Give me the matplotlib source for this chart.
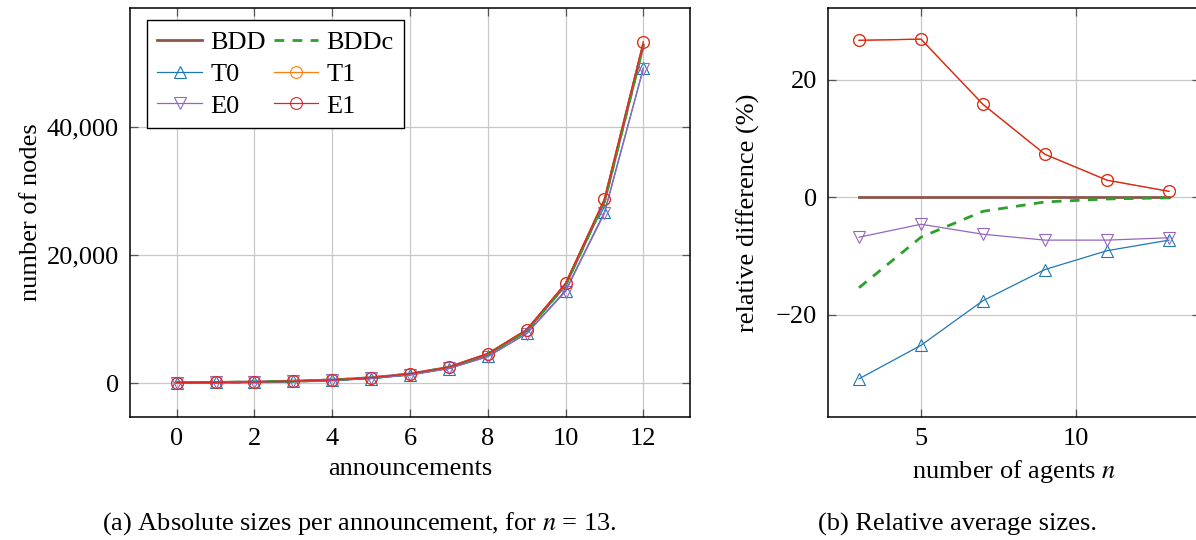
import numpy as np
import matplotlib
matplotlib.use("Agg")
import matplotlib.pyplot as plt
from matplotlib.ticker import FuncFormatter

FS = 19
plt.rcParams['font.family'] = ['Liberation Serif', 'DejaVu Serif']
plt.rcParams['mathtext.fontset'] = 'stix'
plt.rcParams['font.size'] = FS
plt.rcParams['axes.unicode_minus'] = True

# (a) absolute sizes per announcement, n = 13
announcements = list(range(13))
bdd_abs = [60, 100, 170, 285, 480, 825, 1420, 2450, 4500, 8200, 15350, 28400, 52800]
bddc_abs = [55, 95, 160, 275, 470, 810, 1400, 2420, 4460, 8150, 15300, 28350, 52750]
t0_abs = [50, 85, 140, 240, 400, 700, 1250, 2250, 4150, 7750, 14450, 26700, 49200]
t1_abs = [60, 100, 170, 290, 490, 840, 1450, 2500, 4600, 8350, 15600, 28750, 53300]
e0_abs = [55, 90, 150, 255, 420, 730, 1280, 2270, 4100, 7700, 14300, 26500, 49100]
e1_abs = [60, 100, 170, 290, 490, 840, 1450, 2500, 4600, 8350, 15600, 28750, 53300]

# (b) relative average sizes (%)
agents = [3, 5, 7, 9, 11, 13]
bdd_rel = [0, 0, 0, 0, 0, 0]
bddc_rel = [-15.4, -6.8, -2.4, -0.8, -0.3, -0.1]
t0_rel = [-30.9, -25.2, -17.6, -12.3, -9.1, -7.3]
t1_rel = [26.7, 26.9, 15.8, 7.3, 2.9, 1.0]
e0_rel = [-6.8, -4.6, -6.3, -7.3, -7.3, -6.9]
e1_rel = [26.7, 26.9, 15.8, 7.3, 2.9, 1.0]

C_BDD = '#8c564b'
C_BDDC = '#2ca02c'
C_T0 = '#1f77b4'
C_T1 = '#ff7f0e'
C_E0 = '#9467bd'
C_E1 = '#d62728'
MS = 8.5
MEW = 0.8


def style_axes(ax):
    ax.grid(True, color='#c8c8c8', lw=0.9)
    ax.set_axisbelow(True)
    ax.tick_params(direction='in', length=6, width=0.9, color='#555555',
                   top=True, right=True, pad=8, labelsize=FS)
    for s in ax.spines.values():
        s.set_linewidth(1.1)


def draw(ax, x, bdd, bddc, t0, t1, e0, e1):
    h = {}
    h['BDD'], = ax.plot(x, bdd, color=C_BDD, lw=2.0)
    h['BDDc'], = ax.plot(x, bddc, color=C_BDDC, lw=2.0, ls=(0, (3.5, 3)))
    h['T0'], = ax.plot(x, t0, color=C_T0, lw=0.9, marker='^', ms=MS,
                       mfc='none', mew=MEW)
    h['T1'], = ax.plot(x, t1, color=C_T1, lw=0.9, marker='o', ms=MS,
                       mfc='none', mew=MEW)
    h['E0'], = ax.plot(x, e0, color=C_E0, lw=0.9, marker='v', ms=MS,
                       mfc='none', mew=MEW)
    h['E1'], = ax.plot(x, e1, color=C_E1, lw=0.9, marker='o', ms=MS,
                       mfc='none', mew=MEW)
    return h


fig = plt.figure(figsize=(11.96, 5.4), dpi=100)
ax1 = fig.add_axes([130 / 1196, 1 - 417 / 540, 560 / 1196, 409 / 540])
ax2 = fig.add_axes([828 / 1196, 1 - 417 / 540, 372 / 1196, 409 / 540])

h = draw(ax1, announcements, bdd_abs, bddc_abs, t0_abs, t1_abs, e0_abs, e1_abs)
style_axes(ax1)
ax1.set_xlim(-1.2, 13.2)
ax1.set_ylim(-5310, 58600)
ax1.set_xticks(range(0, 13, 2))
ax1.set_yticks([0, 20000, 40000])
ax1.yaxis.set_major_formatter(FuncFormatter(lambda v, p: f"{v:,.0f}"))
ax1.set_xlabel('announcements', labelpad=6)
ax1.set_ylabel('number of nodes', labelpad=3)

order = ['BDD', 'T0', 'E0', 'BDDc', 'T1', 'E1']
leg = ax1.legend([h[k] for k in order], order, ncol=2, loc='upper left',
                 bbox_to_anchor=(0.03, 0.971), borderaxespad=0,
                 fancybox=False, edgecolor='black', framealpha=1,
                 handlelength=1.7, columnspacing=0.3, handletextpad=0.3,
                 labelspacing=0.32, borderpad=0.4, fontsize=FS)
leg.get_frame().set_linewidth(1.0)

draw(ax2, agents, bdd_rel, bddc_rel, t0_rel, t1_rel, e0_rel, e1_rel)
style_axes(ax2)
ax2.set_xlim(2, 14)
ax2.set_ylim(-37.4, 32.2)
ax2.set_xticks([5, 10])
ax2.set_yticks([-20, 0, 20])
ax2.set_xlabel('number of agents $n$', labelpad=6)
ax2.set_ylabel('relative difference (%)', labelpad=11)

fig.text(102 / 1196, 1 - 524 / 540,
         '(a) Absolute sizes per announcement, for $n$ = 13.',
         ha='left', va='center', fontsize=FS)
fig.text(818 / 1196, 1 - 524 / 540, '(b) Relative average sizes.',
         ha='left', va='center', fontsize=FS)

fig.savefig('out.png', dpi=100)
